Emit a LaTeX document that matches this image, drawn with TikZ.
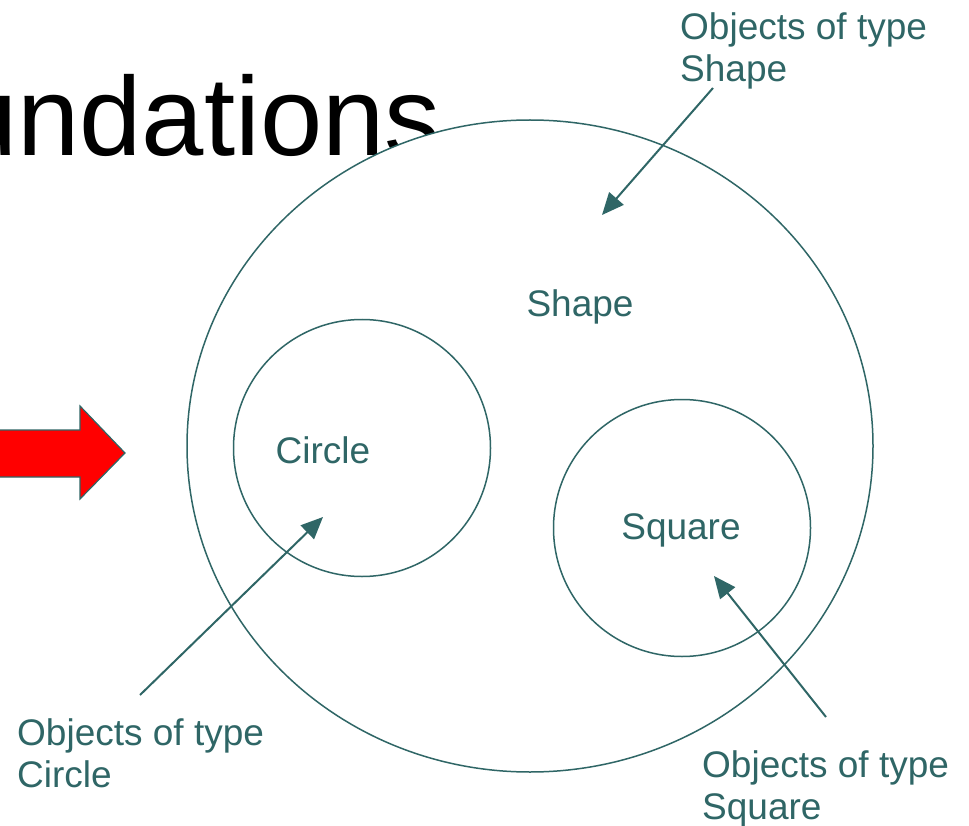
\documentclass[tikz,border=0pt]{standalone}
\usepackage{fontspec}
\setmainfont{Liberation Sans}
\usetikzlibrary{arrows.meta}
\definecolor{teal}{RGB}{47,102,102}
\tikzset{
  lbl/.style={text=teal, font=\fontsize{37}{42}\selectfont, inner sep=0pt, align=left},
  ring/.style={draw=teal, line width=1.5pt},
  ptr/.style={draw=teal, line width=2pt, -{Triangle[length=22pt,width=19pt]}},
}
\begin{document}
\begin{tikzpicture}[x=1pt,y=-1pt]
\useasboundingbox (0,0) rectangle (969,826);
\clip (0,0) rectangle (969,826);
% title
\node[anchor=base east, inner sep=0pt, font=\fontsize{112}{120}\selectfont] (title) at (441,156) {undations};
% red arrow
\draw[fill=red, draw=teal, line width=1.2pt] (-5,430) -- (80,430) -- (80,406) -- (125,453) -- (80,499) -- (80,477) -- (-5,477) -- cycle;
% circles
\draw[ring, fill=white] (530,446) ellipse [x radius=343, y radius=326];
\node[ring, circle, minimum size=257pt, inner sep=0pt] (circ) at (362,448) {};
\node[ring, circle, minimum size=257pt, inner sep=0pt] (sq) at (682,528) {};
% texts
\node[lbl] (shape) at (580,307) {Shape};
\node[lbl] (circle) at (323,450) {Circle};
\node[lbl] (square) at (681,530) {Square};
\node[lbl, anchor=north west] (lshape) at (680,12) {Objects of type\\Shape};
\node[lbl, anchor=north west] (lcircle) at (17,718) {Objects of type\\Circle};
\node[lbl, anchor=north west] (lsquare) at (702,750) {Objects of type\\Square};
% pointers
\coordinate (s0) at (713,88);
\coordinate (s1) at (602,215);
\coordinate (c0) at (140,695);
\coordinate (c1) at (323,517);
\coordinate (q0) at (826,717);
\coordinate (q1) at (714,576);
\draw[ptr] (s0) -- (s1);
\draw[ptr] (c0) -- (c1);
\draw[ptr] (q0) -- (q1);
\end{tikzpicture}
\end{document}
